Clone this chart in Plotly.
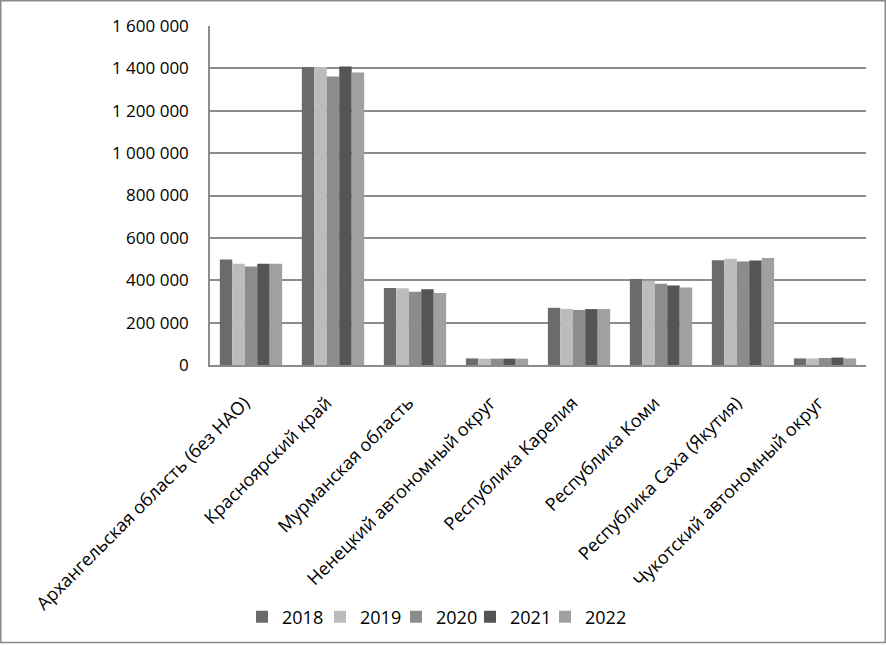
import plotly.graph_objects as go

regions = [
    "Архангельская область (без НАО)",
    "Красноярский край",
    "Мурманская область",
    "Ненецкий автономный округ",
    "Республика Карелия",
    "Республика Коми",
    "Республика Саха (Якутия)",
    "Чукотский автономный округ",
]
years = ["2018", "2019", "2020", "2021", "2022"]
v2018 = [498000, 1406000, 363000, 31000, 270000, 406000, 494000, 31000]
v2019 = [478000, 1406000, 362000, 30000, 265000, 398000, 501000, 31000]
v2020 = [465000, 1362000, 346000, 30000, 260000, 383000, 488000, 33000]
v2021 = [478000, 1409000, 357000, 30000, 264000, 375000, 493000, 35000]
v2022 = [478000, 1381000, 340000, 30000, 264000, 366000, 505000, 31000]
series = [v2018, v2019, v2020, v2021, v2022]
colors = ["#6b6b6b", "#bcbcbc", "#8c8c8c", "#555555", "#a0a0a0"]

tick_vals = [0, 200000, 400000, 600000, 800000, 1000000, 1200000, 1400000, 1600000]
tick_text = ["0", "200\u00a0000", "400\u00a0000", "600\u00a0000", "800\u00a0000",
             "1\u00a0000\u00a0000", "1\u00a0200\u00a0000", "1\u00a0400\u00a0000", "1\u00a0600\u00a0000"]

W, H = 886, 645
L, R, T, B = 210, 20, 26, 279
pw, ph = W - L - R, H - T - B

# legend entry left edges (px) so each legend sits under the reference position
legend_left_px = [242, 320, 396, 470, 545]
legend_names = ["legend", "legend2", "legend3", "legend4", "legend5"]

fig = go.Figure()
for y, vals, c, lg in zip(years, series, colors, legend_names):
    fig.add_trace(go.Bar(name=y, x=regions, y=vals, legend=lg,
                         marker=dict(color=c, line=dict(width=0))))

legend_cfg = {}
for lg, px in zip(legend_names, legend_left_px):
    legend_cfg[lg] = dict(orientation="h", x=(px - L) / pw, xanchor="left",
                          y=(T + ph - 617) / ph, yanchor="middle",
                          font=dict(size=18), itemwidth=30, bgcolor="rgba(0,0,0,0)")

fig.update_layout(
    width=W, height=H,
    margin=dict(l=L, r=R, t=T, b=B),
    paper_bgcolor="white", plot_bgcolor="white",
    font=dict(family="Open Sans", size=17, color="#000000"),
    barmode="group", bargap=0.24, bargroupgap=0,
    showlegend=True,
    shapes=[dict(type="rect", xref="paper", yref="paper",
                 x0=-L / pw + 0.75 / pw, x1=1 + (R - 0.75) / pw,
                 y0=-B / ph + 0.75 / ph, y1=1 + (T - 0.75) / ph,
                 line=dict(color="#8a8a8a", width=1.5), fillcolor="rgba(0,0,0,0)", layer="below")],
    **legend_cfg,
)
fig.update_xaxes(tickangle=-45, showline=True, linecolor="#8c8c8c", linewidth=1.5,
                 tickvals=regions, ticktext=[r + "\u00a0\u00a0" for r in regions],
                 ticks="", tickfont=dict(size=18), automargin=False, ticklabelstandoff=12)
fig.update_yaxes(range=[0, 1600000], tickvals=tick_vals, ticktext=tick_text,
                 showgrid=True, gridcolor="#8c8c8c", gridwidth=1.5,
                 showline=True, linecolor="#8c8c8c", linewidth=1.5,
                 ticks="", ticklen=0, tickfont=dict(size=17), zeroline=False, automargin=False,
                 ticklabelstandoff=16)

fig.write_html("out.html", post_script="document.body.style.margin='0';",
               config={"displayModeBar": False})
